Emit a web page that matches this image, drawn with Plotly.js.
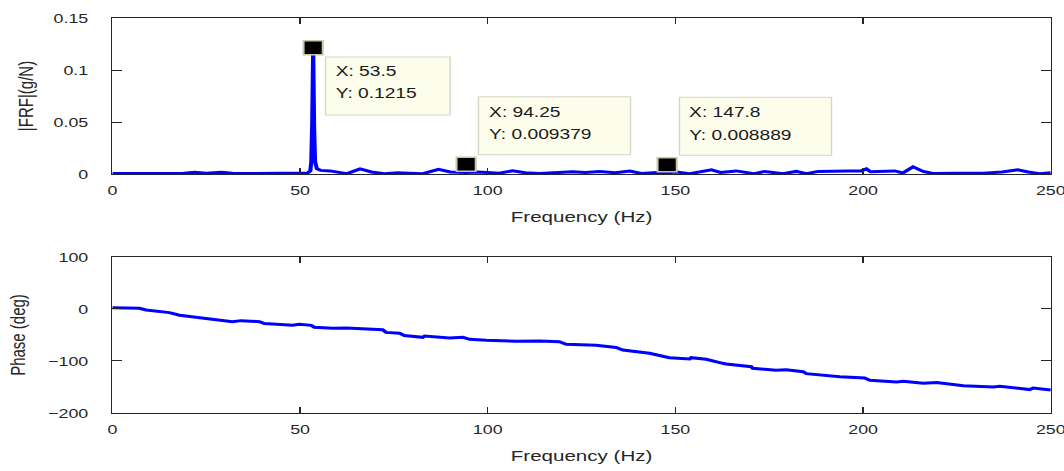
<!DOCTYPE html>
<html>
<head>
<meta charset="utf-8">
<script src="https://cdn.plot.ly/plotly-3.0.1.min.js"></script>
<style>
html,body{margin:0;padding:0;background:#fff;overflow:hidden;}
#chart{width:782px;height:471px;transform:scaleX(1.37);transform-origin:0 0;}
</style>
</head>
<body>
<div id="chart"></div>
<script>
// ---- data ----
const magFreq = [0,5,10,15,19,22,25,29,32,36,40,45,50,52,52.75,53,53.25,53.5,53.75,54,54.5,55.5,58,60,62.5,66,69,72.5,76,79,82.7,86.9,90,94.25,97,100,103,106.6,110,113.8,118,122.6,126,129.8,134,137.8,141,145,147.8,150.2,153.8,156,159.6,162,166.2,171,173.8,176,178.6,182.2,184.9,188,192,196,199.5,200.9,202,205,208.4,210.6,213.3,216,218.6,225,232,237,241.2,244,247,250];
const magVal = [0.0005,0.0005,0.0006,0.0008,0.0007,0.0016,0.0008,0.0016,0.0007,0.0005,0.0006,0.0008,0.0008,0.001,0.003,0.012,0.05,0.1215,0.045,0.012,0.005,0.0035,0.003,0.002,0.0003,0.005,0.002,0.0002,0.0012,0.0008,0.0003,0.0045,0.002,0.0015,0.002,0.0015,0.0008,0.003,0.0012,0.0005,0.0015,0.0022,0.0015,0.0025,0.0012,0.0028,0.0005,0.0015,0.0012,0.002,0.0003,0.0015,0.004,0.0015,0.003,0.0003,0.0025,0.0015,0.0003,0.0025,0.0003,0.0025,0.003,0.003,0.003,0.005,0.0022,0.0025,0.003,0.001,0.007,0.0025,0.0005,0.0008,0.0008,0.002,0.004,0.002,0.0003,0.0012];

const phaseFreq = [0,7.2,9,15.2,17.9,23.2,28.5,32,34.3,39.2,40.5,48,49.8,53,53.8,58.7,62.3,65.8,72,72.9,76.5,77.8,82.7,83.2,89.8,93.4,95.2,99.6,107.6,113.8,119.1,120.9,128.9,134.2,136,143.1,148.4,153.8,154.2,158.2,159.1,161.8,163.5,170.2,170.6,176.8,179.5,184,184.9,193.8,200.4,201.8,208.9,210.7,216,219.6,226.7,234.7,236.4,244.4,245.3,250];
const phaseVal = [2.5,1.3,-2,-7,-12,-17,-21,-24.4,-22.4,-24.4,-28,-31.4,-29.5,-31.4,-35,-37,-36.5,-38,-40,-45,-46.8,-51,-54.5,-52,-56,-54.5,-58.3,-60,-62,-61.5,-63,-67.8,-69.8,-74,-78.8,-85,-93.6,-96,-93.6,-96.8,-98,-103,-105.8,-111,-114,-118,-116.7,-120.5,-124.4,-130.2,-132.7,-137,-140.4,-139,-142.9,-141.6,-147.4,-150,-148.7,-155,-151.9,-155.8];

const tipX = [53.5, 94.25, 147.8];
const tipY = [0.1215, 0.009379, 0.008889];
const tipXLabel = ['53.5', '94.25', '147.8'];
const tipYLabel = ['0.1215', '0.009379', '0.008889'];

const xTicks = [0, 50, 100, 150, 200, 250];
const magTicks = [0, 0.05, 0.1, 0.15];
const phaseTicks = [-200, -100, 0, 100];

// ---- styling ----
const FONT = 'Liberation Sans, Arial, Helvetica, sans-serif';
const AX = '#262626';
const BLUE = '#0000ff';
const boxDown = [true, false, false];
const boxW = [91, 111, 111];

const shapes = [];
const annotations = [];
for (let i = 0; i < tipX.length; i++) {
  const down = boxDown[i];
  shapes.push({
    type: 'rect', xref: 'x', yref: 'y', xsizemode: 'pixel', ysizemode: 'pixel',
    xanchor: tipX[i], yanchor: tipY[i],
    x0: 9, x1: 9 + boxW[i],
    y0: down ? -9.4 : 9.5, y1: down ? -67.4 : 67.5,
    fillcolor: '#fdfdec', line: {color: '#d6d6c8', width: 1}, layer: 'above'
  });
  shapes.push({
    type: 'rect', xref: 'x', yref: 'y', xsizemode: 'pixel', ysizemode: 'pixel',
    xanchor: tipX[i], yanchor: tipY[i],
    x0: -7, x1: 7, y0: -7, y1: 7,
    fillcolor: '#000000', line: {color: '#cbc7a6', width: 1.5}, layer: 'above'
  });
  const lines = ['X: ' + tipXLabel[i], 'Y: ' + tipYLabel[i]];
  const ys = down ? [-23, -45.7] : [52.5, 30];
  for (let k = 0; k < 2; k++) {
    annotations.push({
      xref: 'x', yref: 'y', x: tipX[i], y: tipY[i], text: lines[k],
      showarrow: false, xanchor: 'left', yanchor: 'middle',
      xshift: 14.5, yshift: ys[k],
      font: {family: FONT, size: 14, color: '#1a1a1a'}
    });
  }
}

const common = {
  showgrid: false, zeroline: false, showline: true, linecolor: AX, linewidth: 1,
  mirror: 'ticks', ticks: 'inside', tickcolor: AX, tickwidth: 1,
  ticklabeloverflow: 'allow',
  tickfont: {family: FONT, size: 13, color: AX}
};

const traces = [
  {x: magFreq, y: magVal, type: 'scatter', mode: 'lines', line: {color: BLUE, width: 3}, xaxis: 'x', yaxis: 'y', hoverinfo: 'skip'},
  {x: phaseFreq, y: phaseVal, type: 'scatter', mode: 'lines', line: {color: BLUE, width: 3}, xaxis: 'x2', yaxis: 'y2', hoverinfo: 'skip'}
];

const layout = {
  width: 782, height: 471,
  margin: {l: 82, r: 15, t: 18, b: 58},
  paper_bgcolor: '#ffffff', plot_bgcolor: '#ffffff',
  showlegend: false,
  font: {family: FONT, color: AX},
  xaxis: Object.assign({}, common, {
    domain: [0, 1], anchor: 'y', range: [0, 250], tickvals: xTicks, ticklen: 6, ticklabelstandoff: 4,
    title: {text: 'Frequency (Hz)', font: {family: FONT, size: 15, color: AX}, standoff: 14}
  }),
  yaxis: Object.assign({}, common, {
    domain: [0.605, 1], anchor: 'x', range: [0, 0.15], tickvals: magTicks, ticklen: 7, ticklabelstandoff: 14,
    title: {text: '|FRF|(g/N)', font: {family: FONT, size: 15, color: AX}, standoff: 10}
  }),
  xaxis2: Object.assign({}, common, {
    domain: [0, 1], anchor: 'y2', range: [0, 250], tickvals: xTicks, ticklen: 6, ticklabelstandoff: 4,
    title: {text: 'Frequency (Hz)', font: {family: FONT, size: 15, color: AX}, standoff: 14}
  }),
  yaxis2: Object.assign({}, common, {
    domain: [0, 0.395], anchor: 'x2', range: [-200, 100], tickvals: phaseTicks, ticklen: 7, ticklabelstandoff: 14,
    title: {text: 'Phase (deg)', font: {family: FONT, size: 15, color: AX}, standoff: 12}
  }),
  shapes: shapes,
  annotations: annotations
};

Plotly.newPlot('chart', traces, layout, {staticPlot: true, displayModeBar: false});
</script>
</body>
</html>
